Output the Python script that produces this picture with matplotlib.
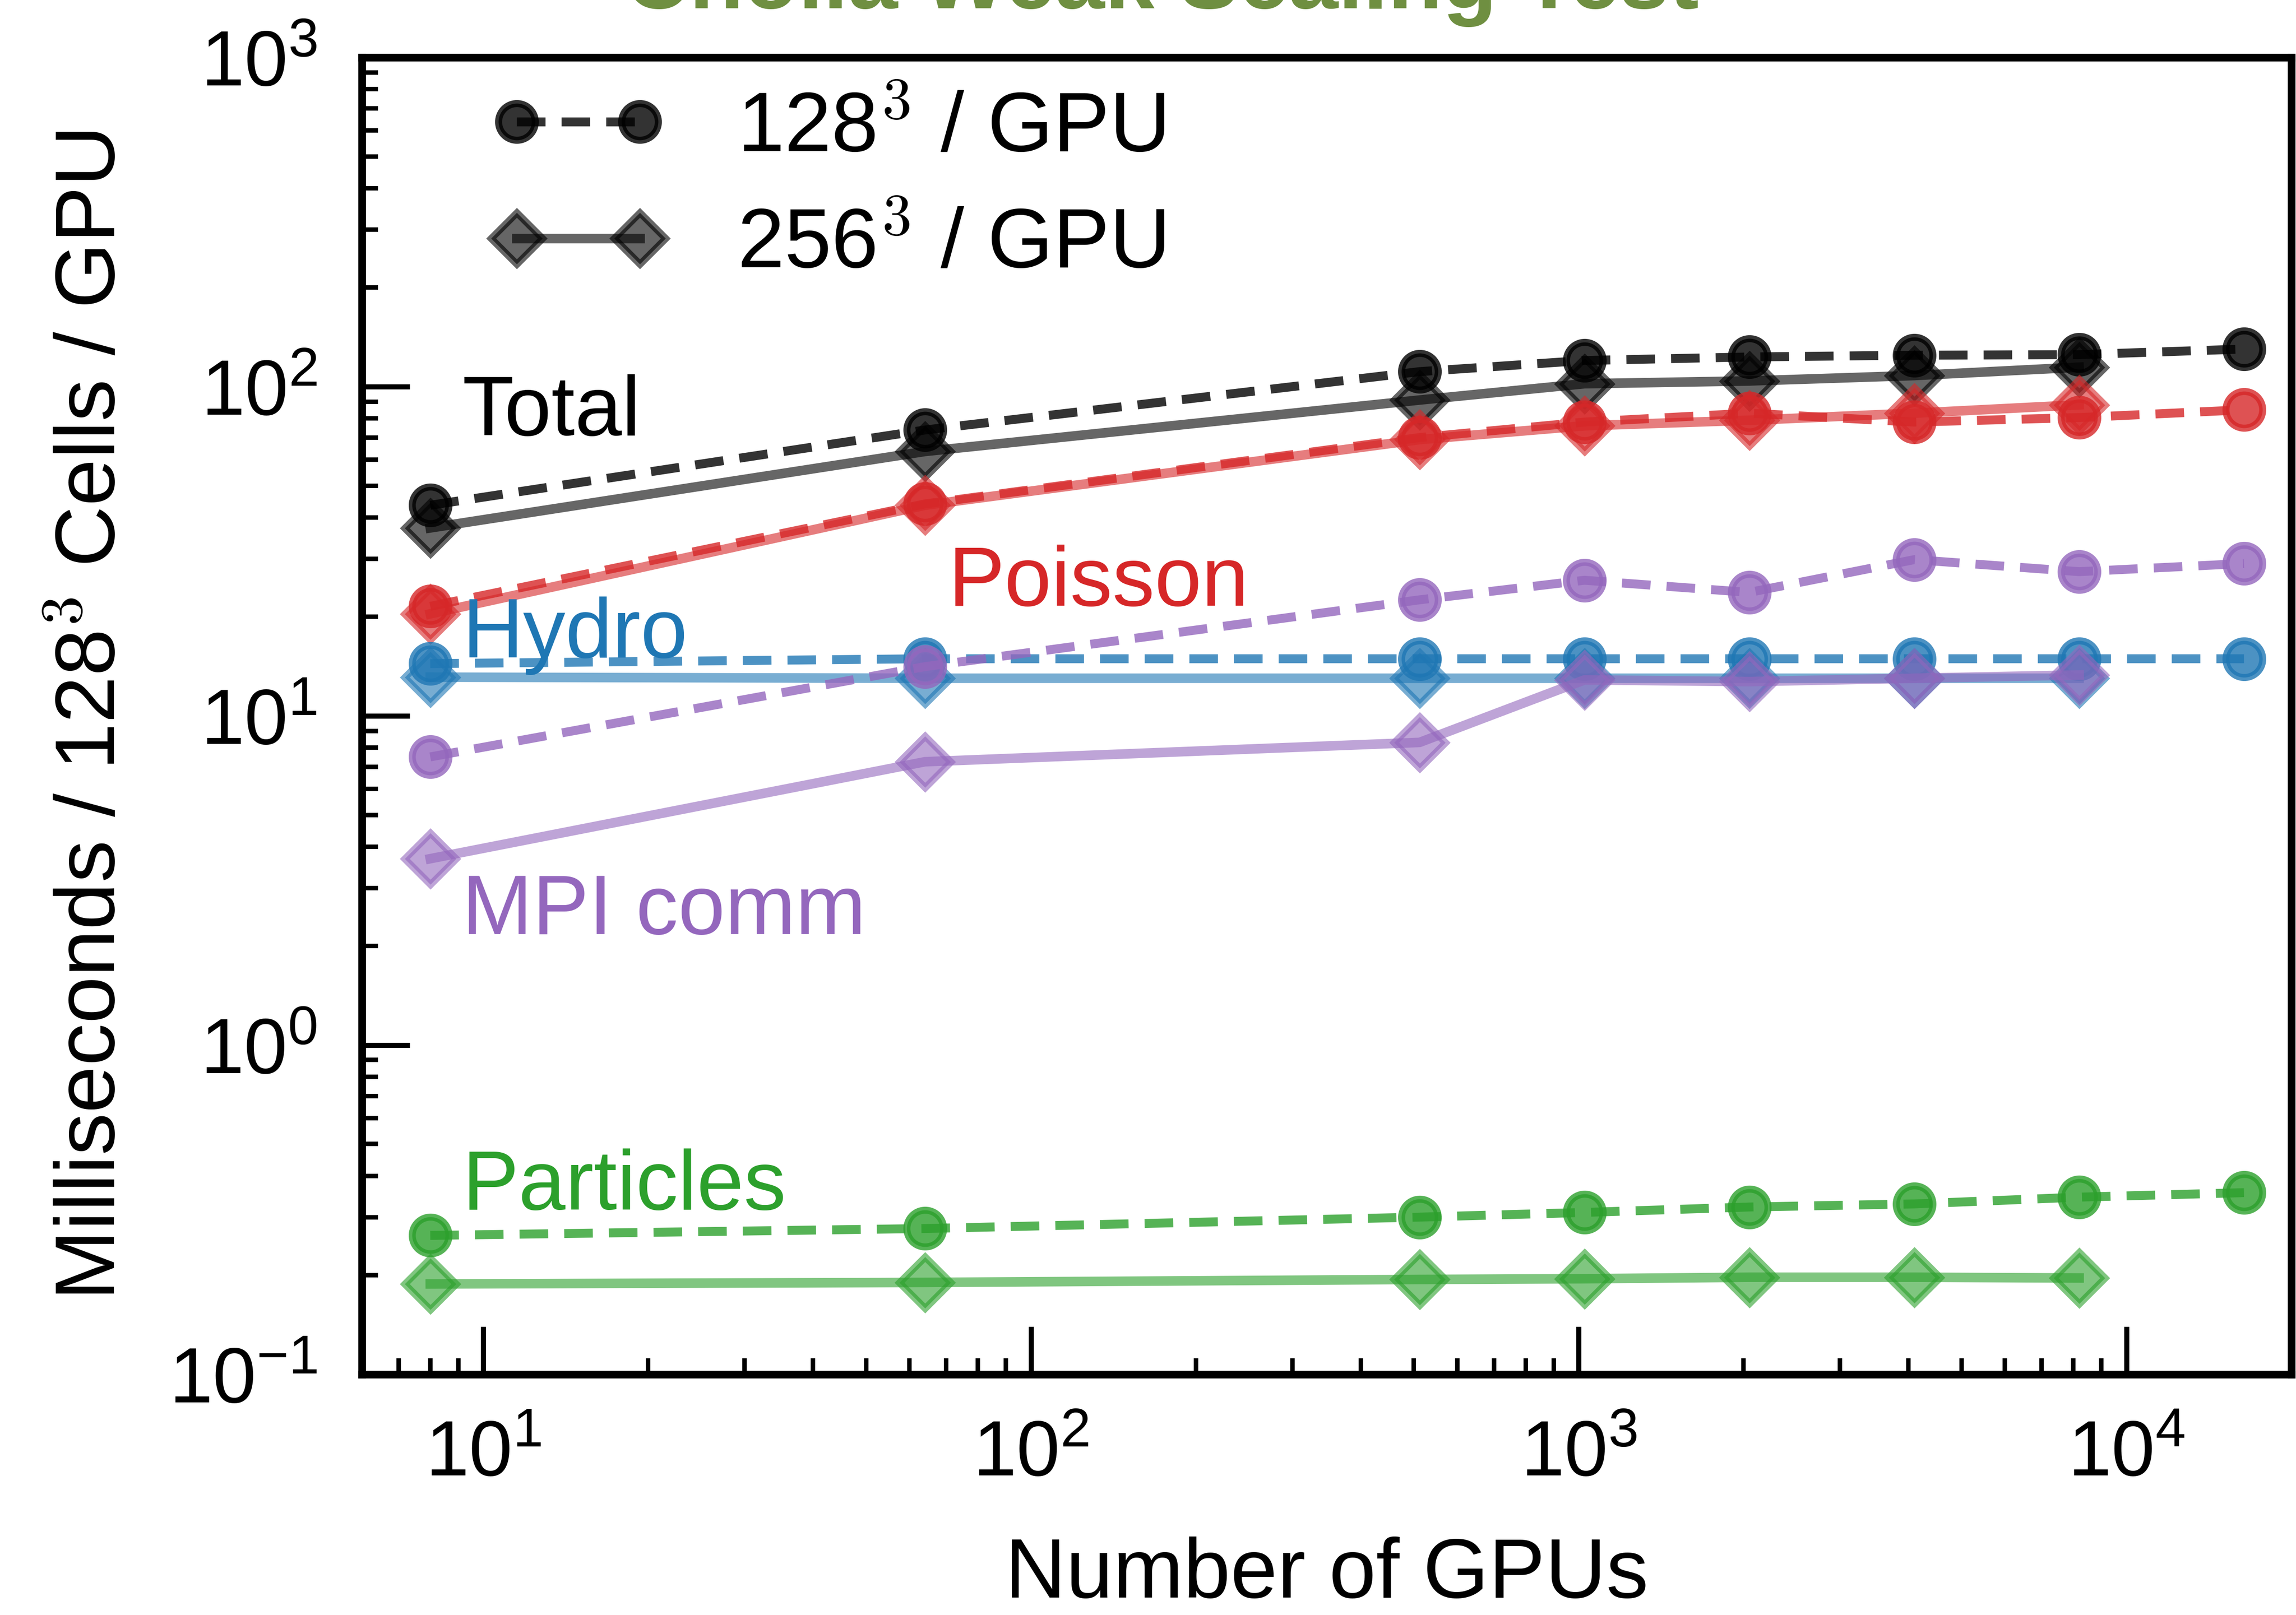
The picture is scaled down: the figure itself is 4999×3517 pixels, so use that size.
import matplotlib
matplotlib.use("Agg")
import matplotlib.pyplot as plt

plt.rcParams['font.family'] = ['Liberation Sans', 'DejaVu Sans']
plt.rcParams['mathtext.fontset'] = 'cm'
plt.rcParams['axes.unicode_minus'] = False

# number of GPUs (the 256^3 runs stop at 8192)
ngpu = [8, 64, 512, 1024, 2048, 4096, 8192, 16384]
ngpu_256 = [8, 64, 512, 1024, 2048, 4096, 8192]

# ms / 128^3 cells / GPU
total_128 = [43.6, 73.8, 111, 120, 123, 124.5, 125, 130]
total_256 = [37.2, 63.5, 91, 102, 104, 108, 114.5]
poisson_128 = [21.5, 44, 70, 78, 83, 78, 80.5, 85]
poisson_256 = [20.4, 43.6, 69, 76, 79, 83, 88]
hydro_128 = [14.4, 14.9, 14.9, 14.9, 14.9, 14.9, 14.9, 14.9]
hydro_256 = [13.1, 13.0, 13.0, 13.0, 13.0, 13.0, 13.0]
mpi_128 = [7.5, 14.1, 22.5, 25.8, 23.7, 29.8, 27.4, 29.0]
mpi_256 = [3.68, 7.25, 8.3, 12.85, 12.7, 13.0, 13.3]
part_128 = [0.264, 0.277, 0.300, 0.310, 0.322, 0.329, 0.345, 0.356]
part_256 = [0.188, 0.190, 0.194, 0.195, 0.197, 0.197, 0.196]

names = ["Total", "Poisson", "Hydro", "MPI comm", "Particles"]
colors = ["black", "tab:red", "tab:blue", "tab:purple", "tab:green"]
label_pos = [(9.15, 71), (70.6, 21.6), (9.15, 15.0), (9.15, 2.17), (9.15, 0.316)]
series_128 = [total_128, poisson_128, hydro_128, mpi_128, part_128]
series_256 = [total_256, poisson_256, hydro_256, mpi_256, part_256]

fig = plt.figure(figsize=(4999 / 500, 3517 / 500), dpi=500)
ax = fig.add_axes([0.1576, 0.1491, 0.8404, 0.8154])

handles = []
for name, c, y128, y256, (lx, ly) in zip(names, colors, series_128, series_256, label_pos):
    l1, = ax.plot(ngpu, y128, ls='--', dashes=(3.2, 1.8), lw=2.8, color=c, alpha=0.8,
                  marker='o', ms=11.5, mew=2.2)
    l2, = ax.plot(ngpu_256, y256, ls='-', lw=3.0, color=c, alpha=0.6,
                  marker='D', ms=11.5, mew=2.2)
    if name == "Total":
        handles = [l1, l2]
    ax.text(lx, ly, name, color=c, fontsize=26.5, ha='left', va='baseline')

ax.set_xscale('log')
ax.set_yscale('log')
ax.set_xlim(6, 2e4)
ax.set_ylim(0.1, 1000)

ax.set_xlabel("Number of GPUs", fontsize=26.5, labelpad=14)
ax.set_ylabel("Milliseconds / 128$^3$ Cells / GPU", fontsize=26.5)
ax.yaxis.set_label_coords(-0.119, 0.5)

ax.tick_params(which='both', direction='in', labelsize=24.5, pad=14)
ax.tick_params(which='major', length=15, width=1.6)
ax.tick_params(which='minor', length=5, width=1.4)
for sp in ax.spines.values():
    sp.set_linewidth(2.4)

ax.legend(handles, ["128$^3$ / GPU", "256$^3$ / GPU"], loc='upper left',
          bbox_to_anchor=(0.067, 0.975), frameon=False, fontsize=26.5,
          numpoints=2, handlelength=2.06, handletextpad=0.85,
          labelspacing=0.45, borderpad=0, borderaxespad=0)

# the title sits mostly above the canvas, as in the original
fig.text(0.506, 1 - 18 / 3517, "Cholla Weak Scaling Test", color='#6f8f41',
         fontsize=28, fontweight='bold', ha='center', va='baseline')

fig.savefig("out.png", dpi=500)
